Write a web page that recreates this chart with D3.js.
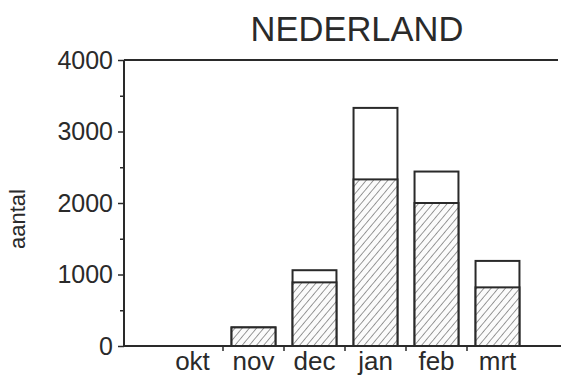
<!DOCTYPE html>
<html>
<head>
<meta charset="utf-8">
<script src="https://cdn.jsdelivr.net/npm/d3@7"></script>
<style>
  html, body { margin: 0; padding: 0; background: #fff; }
  svg { display: block; font-family: "Liberation Sans", Arial, Helvetica, sans-serif; }
</style>
</head>
<body>
<svg id="chart" width="561" height="381"></svg>
<script>
// Maandtotalen (open deel) en gearceerd deel per maand
const maanden = ["okt", "nov", "dec", "jan", "feb", "mrt"];
const totaal = [0, 260, 1060, 3330, 2440, 1190];
const gearceerd = [0, 260, 890, 2330, 2000, 820];
const yTicks = [0, 1000, 2000, 3000, 4000];
const yMinorTicks = [500, 1500, 2500, 3500];

const ink = "#2a2a2a";
const svg = d3.select("#chart");

const plot = { left: 124, right: 560, top: 60, bottom: 346 };

const pad = 0.28;
const x = d3.scaleBand()
  .domain(maanden)
  .range([162, 528])
  .paddingInner(pad)
  .paddingOuter(pad / 2);

const y = d3.scaleLinear().domain([0, 4000]).range([plot.bottom, plot.top]);

// diagonal hatch fill
const defs = svg.append("defs");
const pat = defs.append("pattern")
  .attr("id", "arcering")
  .attr("patternUnits", "userSpaceOnUse")
  .attr("width", 5.5).attr("height", 5.5)
  .attr("patternTransform", "rotate(40)");
pat.append("rect").attr("width", 5.5).attr("height", 5.5).attr("fill", "#fbfbfb");
pat.append("line")
  .attr("x1", 0).attr("y1", 0).attr("x2", 0).attr("y2", 5.5)
  .attr("stroke", "#4a4a4a").attr("stroke-width", 1.1);

const data = maanden.map((m, i) => ({ maand: m, totaal: totaal[i], deel: gearceerd[i] }));

// open upper part: full bar outline
svg.append("g").selectAll("rect.totaal")
  .data(data.filter(d => d.totaal > 0))
  .join("rect")
  .attr("class", "totaal")
  .attr("x", d => x(d.maand))
  .attr("width", x.bandwidth())
  .attr("y", d => y(d.totaal))
  .attr("height", d => y(0) - y(d.totaal))
  .attr("fill", "#fff")
  .attr("stroke", ink)
  .attr("stroke-width", 2);

// hatched lower part
svg.append("g").selectAll("rect.deel")
  .data(data.filter(d => d.deel > 0))
  .join("rect")
  .attr("class", "deel")
  .attr("x", d => x(d.maand))
  .attr("width", x.bandwidth())
  .attr("y", d => y(d.deel))
  .attr("height", d => y(0) - y(d.deel))
  .attr("fill", "url(#arcering)")
  .attr("stroke", ink)
  .attr("stroke-width", 2);

// top frame line
svg.append("line")
  .attr("x1", plot.left).attr("x2", 558)
  .attr("y1", y(4000)).attr("y2", y(4000))
  .attr("stroke", ink).attr("stroke-width", 2);

// y axis with major and minor ticks
const yAxis = svg.append("g")
  .attr("transform", `translate(${plot.left},0)`)
  .call(d3.axisLeft(y).tickValues(yTicks).tickSize(6).tickPadding(5).tickFormat(d3.format("d")));
yAxis.select(".domain").attr("stroke", ink).attr("stroke-width", 2).attr("d", `M0,${y(0)}V${y(4000)}`);
yAxis.selectAll(".tick line").attr("stroke", ink).attr("stroke-width", 1.5);
yAxis.selectAll(".tick text")
  .attr("fill", ink).attr("font-size", 25).attr("font-family", "\"Liberation Sans\", Arial, sans-serif");

const yMinor = svg.append("g")
  .attr("transform", `translate(${plot.left},0)`)
  .call(d3.axisLeft(y).tickValues(yMinorTicks).tickSize(4).tickFormat(""));
yMinor.select(".domain").remove();
yMinor.selectAll(".tick line").attr("stroke", ink).attr("stroke-width", 1.5);

// x axis: labels centred on bars, ticks between months
const xAxis = svg.append("g")
  .attr("transform", `translate(0,${plot.bottom})`)
  .call(d3.axisBottom(x).tickSize(0).tickPadding(6));
xAxis.select(".domain").attr("stroke", ink).attr("stroke-width", 2).attr("d", `M${plot.left},0H561`);
xAxis.selectAll(".tick text")
  .attr("fill", ink).attr("font-size", 26).attr("font-family", "\"Liberation Sans\", Arial, sans-serif");

const grenzen = maanden.slice(1).map(m => x(m) - x.step() * pad / 2);
svg.append("g").selectAll("line")
  .data(grenzen)
  .join("line")
  .attr("x1", d => d).attr("x2", d => d)
  .attr("y1", plot.bottom).attr("y2", plot.bottom + 5)
  .attr("stroke", ink).attr("stroke-width", 1.5);

// title
svg.append("text")
  .attr("x", 357).attr("y", 41)
  .attr("text-anchor", "middle")
  .attr("font-size", 34.5)
  .attr("fill", ink)
  .text("NEDERLAND");

// y axis title
svg.append("text")
  .attr("transform", `translate(25,219) rotate(-90)`)
  .attr("text-anchor", "middle")
  .attr("font-size", 22)
  .attr("fill", ink)
  .text("aantal");
</script>
</body>
</html>
